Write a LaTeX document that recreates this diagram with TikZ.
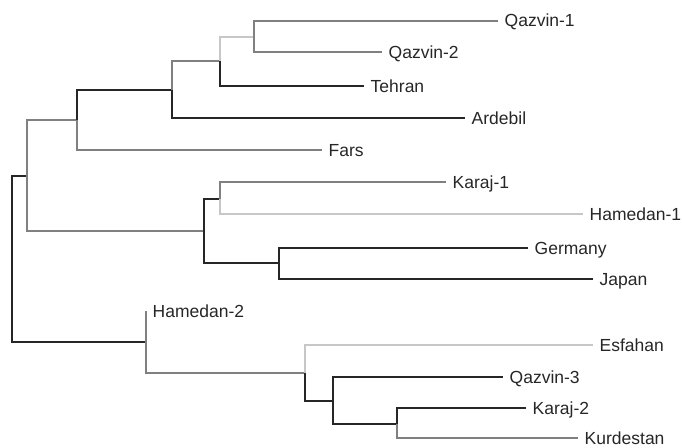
\documentclass[tikz,border=0pt]{standalone}
\usepackage{fontspec}
\setmainfont{Liberation Sans}
\usepackage{tikz}
\usepackage{xcolor}

\begin{document}
\begin{tikzpicture}
  [x=1pt,y=-1pt,line width=1.4pt,
   dk/.style={draw=black!85},
   md/.style={draw=black!50},
   lt/.style={draw=black!22},
   leaf/.style={anchor=west,inner xsep=6pt,inner ysep=0pt,text height=12pt,text depth=0pt,
     text=black!85,font=\fontsize{17.5}{20}\selectfont}]
  \useasboundingbox (0,0) rectangle (682,447);

  % inner nodes
  \coordinate (r0) at (12,259);
  \coordinate (c1) at (27,176);
  \coordinate (c2) at (77,120);
  \coordinate (c3) at (172,90);
  \coordinate (c4) at (220,61);
  \coordinate (c5) at (254,37);
  \coordinate (c6) at (204,231);
  \coordinate (c7) at (220,199);
  \coordinate (c8) at (279,263);
  \coordinate (c9) at (146,342);
  \coordinate (c10) at (305,373);
  \coordinate (c11) at (333,401);
  \coordinate (c12) at (397,424);

  % leaves
  \node[leaf] (qaz1) at (498,21)  {Qazvin-1};
  \node[leaf] (qaz2) at (382,52)  {Qazvin-2};
  \node[leaf] (teh)  at (364,86)  {Tehran};
  \node[leaf] (ard)  at (465,118) {Ardebil};
  \node[leaf] (far)  at (322,150) {Fars};
  \node[leaf] (kar1) at (446,182) {Karaj-1};
  \node[leaf] (ham1) at (583,214) {Hamedan-1};
  \node[leaf] (ger)  at (528,248) {Germany};
  \node[leaf] (jap)  at (593,279) {Japan};
  \node[leaf] (ham2) at (146,311) {Hamedan-2};
  \node[leaf] (esf)  at (593,345) {Esfahan};
  \node[leaf] (qaz3) at (503,377) {Qazvin-3};
  \node[leaf] (kar2) at (526,408) {Karaj-2};
  \node[leaf] (kur)  at (578,438) {Kurdestan};

  \foreach \from/\to/\col in {r0/c1/dk,r0/c9/dk,c1/c2/md,c1/c6/md,c2/c3/dk,c2/far/md,
      c3/c4/md,c3/ard/dk,c4/c5/lt,c4/teh/dk,c5/qaz1/md,c5/qaz2/md,
      c6/c7/dk,c6/c8/dk,c7/kar1/md,c7/ham1/lt,c8/ger/dk,c8/jap/dk,
      c9/ham2/md,c9/c10/md,c10/esf/lt,c10/c11/dk,c11/qaz3/dk,c11/c12/dk,
      c12/kar2/dk,c12/kur/md}
    \draw[\col] (\from) |- (\to);

\end{tikzpicture}
\end{document}
